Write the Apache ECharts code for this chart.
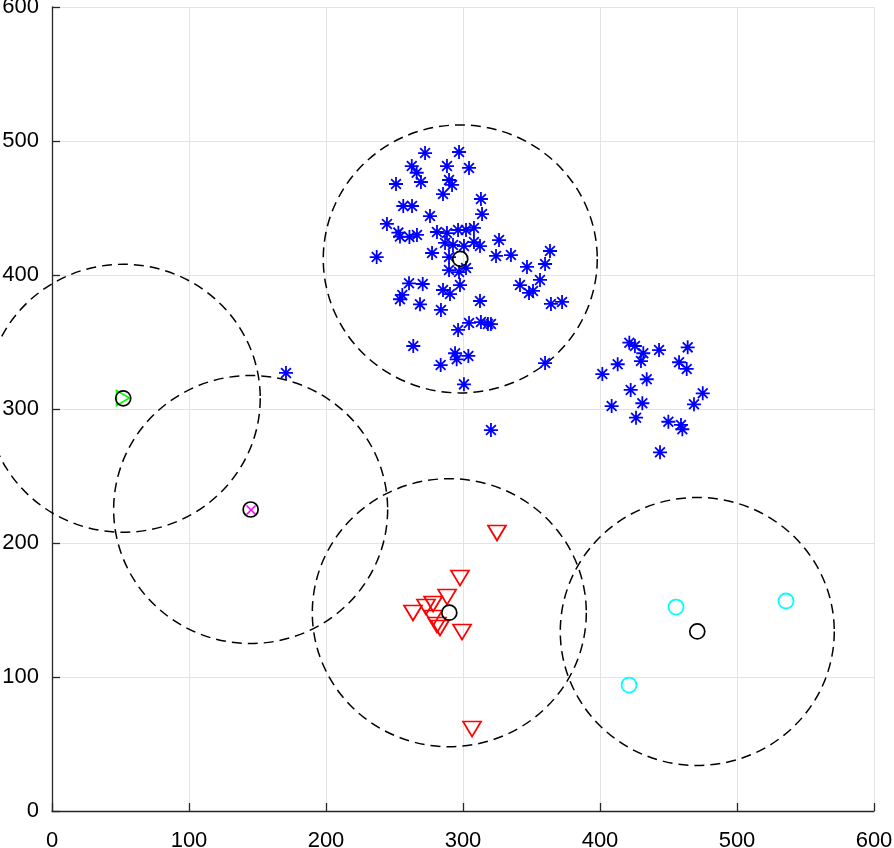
<!DOCTYPE html>
<html>
<head>
<meta charset="utf-8">
<script src="https://cdn.jsdelivr.net/npm/echarts@6/dist/echarts.min.js"></script>
<style>
	html, body { margin: 0; padding: 0; background: #fff; }
	#chart { width: 894px; height: 848px; }
</style>
</head>
<body>
<div id="chart"></div>
<script>
// 聚类中心及半径
var centerX = [298, 52, 145, 290, 471];
var centerY = [412, 308, 225, 148, 134];
var radius = [100, 100, 100, 100, 100];

// 蓝色 * 点
var blueX = [272.3, 297.1, 262.6, 288.3, 304.4, 266.2, 269.3, 289.8, 292.0, 251.1,
	285.4, 313.1, 256.4, 262.8, 313.9, 275.9, 244.5, 252.8, 254.0, 260.9,
	266.4, 281.0, 288.3, 296.4, 302.2, 308.0, 326.3, 286.9, 292.7, 300.7,
	308.0, 312.4, 277.4, 289.8, 237.0, 324.1, 335.0, 363.5, 346.7, 359.9,
	289.8, 302.2, 297.1, 260.6, 270.6, 255.7, 254.0, 268.6, 285.4, 290.5,
	297.8, 341.6, 356.2, 348.2, 351.1, 312.4, 283.9, 364.2, 372.3, 313.1,
	318.2, 320.4, 304.4, 296.4, 263.7, 294.2, 303.9, 295.4, 283.7, 359.9,
	300.7, 320.4, 170.8,
	421.4, 425.5, 431.6, 429.9, 443.1, 464.0, 412.9, 457.7, 463.3, 401.7,
	434.1, 422.4, 475.0, 468.6, 430.9, 408.5, 426.3, 449.9, 459.1, 460.1,
	443.8];
var blueY = [491.0, 491.8, 481.3, 481.3, 479.9, 476.3, 469.4, 470.9, 467.2, 467.9,
	460.4, 456.7, 451.5, 451.5, 445.5, 444.0, 438.1, 431.6, 428.7, 428.4,
	429.9, 432.1, 431.3, 433.6, 433.6, 435.1, 426.1, 423.9, 422.4, 421.6,
	424.6, 421.6, 416.4, 413.4, 413.4, 414.2, 414.9, 417.9, 406.0, 408.2,
	403.7, 405.2, 402.2, 393.8, 393.3, 385.1, 381.9, 378.1, 388.8, 385.8,
	392.5, 392.5, 396.3, 386.6, 388.1, 380.6, 373.9, 378.4, 379.9, 364.9,
	363.4, 363.4, 364.2, 359.0, 347.0, 341.6, 339.6, 337.1, 332.8, 334.3,
	318.4, 284.3, 326.9,
	349.5, 347.0, 341.6, 335.8, 344.0, 346.0, 333.4, 334.9, 329.9, 326.1,
	322.2, 314.2, 311.7, 303.5, 304.3, 302.2, 293.5, 290.5, 288.1, 284.9,
	267.7];

// 红色倒三角
var redX = [324.8, 297.8, 288.4, 278.2, 273.0, 263.5, 278.2, 281.0, 283.2, 299.3, 306.6];
var redY = [207.5, 173.9, 159.7, 154.5, 152.2, 147.8, 144.0, 138.8, 136.6, 133.6, 61.2];

// 青色圆
var cyanX = [455.5, 535.8, 421.2];
var cyanY = [152.2, 156.7, 94.0];

// 单点簇
var greenX = [51.8];
var greenY = [308.2];
var magentaX = [145.3];
var magentaY = [224.6];

var ticks = [0, 100, 200, 300, 400, 500, 600];

var zip = function (xs, ys) {
	var out = [];
	for (var i = 0; i < xs.length; i++) {
		out.push([xs[i], ys[i]]);
	}
	return out;
};

var circleData = [];
for (var i = 0; i < centerX.length; i++) {
	circleData.push([centerX[i], centerY[i], radius[i]]);
}

var axisCommon = function () {
	return {
		type: 'value',
		min: ticks[0],
		max: ticks[ticks.length - 1],
		interval: ticks[1] - ticks[0],
		axisLine: { show: true, onZero: false, lineStyle: { color: '#262626', width: 1.3 } },
		axisTick: { show: true, inside: true, length: 8, lineStyle: { color: '#262626', width: 1.3 } },
		splitLine: { show: true, showMinLine: true, showMaxLine: true, lineStyle: { color: '#e3e3e3', width: 1 } },
		axisLabel: { color: '#000', fontSize: 22, fontFamily: 'Liberation Sans, Arial, sans-serif' }
	};
};

var xAxis = axisCommon();
xAxis.axisLabel.margin = 19;
var yAxis = axisCommon();
yAxis.axisLabel.margin = 13;
yAxis.axisLabel.padding = [4, 0, 0, 0];

var chart = echarts.init(document.getElementById('chart'), null, { renderer: 'canvas' });
chart.setOption({
	animation: false,
	backgroundColor: '#fff',
	grid: { left: 52, right: 20, top: 7, bottom: 37, containLabel: false, outerBoundsMode: 'none' },
	xAxis: xAxis,
	yAxis: yAxis,
	series: [
		{
			// 虚线圆
			type: 'custom',
			data: circleData,
			clip: false,
			z: 3,
			renderItem: function (params, api) {
				var c = api.coord([api.value(0), api.value(1)]);
				var s = api.size([api.value(2), api.value(2)]);
				return {
					type: 'circle',
					x: c[0],
					y: c[1],
					scaleY: s[1] / s[0],
					shape: { cx: 0, cy: 0, r: s[0] },
					style: { fill: 'none', stroke: '#000', lineWidth: 1.5, lineDash: [10, 6], strokeNoScale: true }
				};
			}
		},
		{
			type: 'scatter',
			data: zip(blueX, blueY),
			symbol: 'path://M5,0L5,10M0,5L10,5M1.5,1.5L8.5,8.5M1.5,8.5L8.5,1.5',
			symbolSize: 14,
			itemStyle: { color: 'rgba(0,0,0,0)', borderColor: '#0000ff', borderWidth: 1.8, opacity: 1 },
			z: 4
		},
		{
			type: 'scatter',
			data: zip(redX, redY),
			symbol: 'path://M0,0L10,0L5,8.5Z',
			symbolSize: [18, 15],
			itemStyle: { color: 'rgba(0,0,0,0)', borderColor: '#ff0000', borderWidth: 1.7, opacity: 1 },
			z: 4
		},
		{
			type: 'scatter',
			data: zip(cyanX, cyanY),
			symbol: 'circle',
			symbolSize: 15,
			itemStyle: { color: 'rgba(0,0,0,0)', borderColor: '#00ffff', borderWidth: 1.8, opacity: 1 },
			z: 4
		},
		{
			type: 'scatter',
			data: zip(greenX, greenY),
			symbol: 'path://M0,0L9,5L0,10Z',
			symbolSize: [13, 15],
			itemStyle: { color: 'rgba(0,0,0,0)', borderColor: '#00ff00', borderWidth: 1.6, opacity: 1 },
			z: 4
		},
		{
			type: 'scatter',
			data: zip(magentaX, magentaY),
			symbol: 'path://M0,0L10,10M0,10L10,0',
			symbolSize: 9,
			itemStyle: { color: 'rgba(0,0,0,0)', borderColor: '#ff00ff', borderWidth: 1.6, opacity: 1 },
			z: 4
		},
		{
			type: 'scatter',
			data: zip(centerX, centerY),
			symbol: 'circle',
			symbolSize: 15,
			itemStyle: { color: 'rgba(0,0,0,0)', borderColor: '#000', borderWidth: 1.7, opacity: 1 },
			z: 5
		}
	]
});
</script>
</body>
</html>
